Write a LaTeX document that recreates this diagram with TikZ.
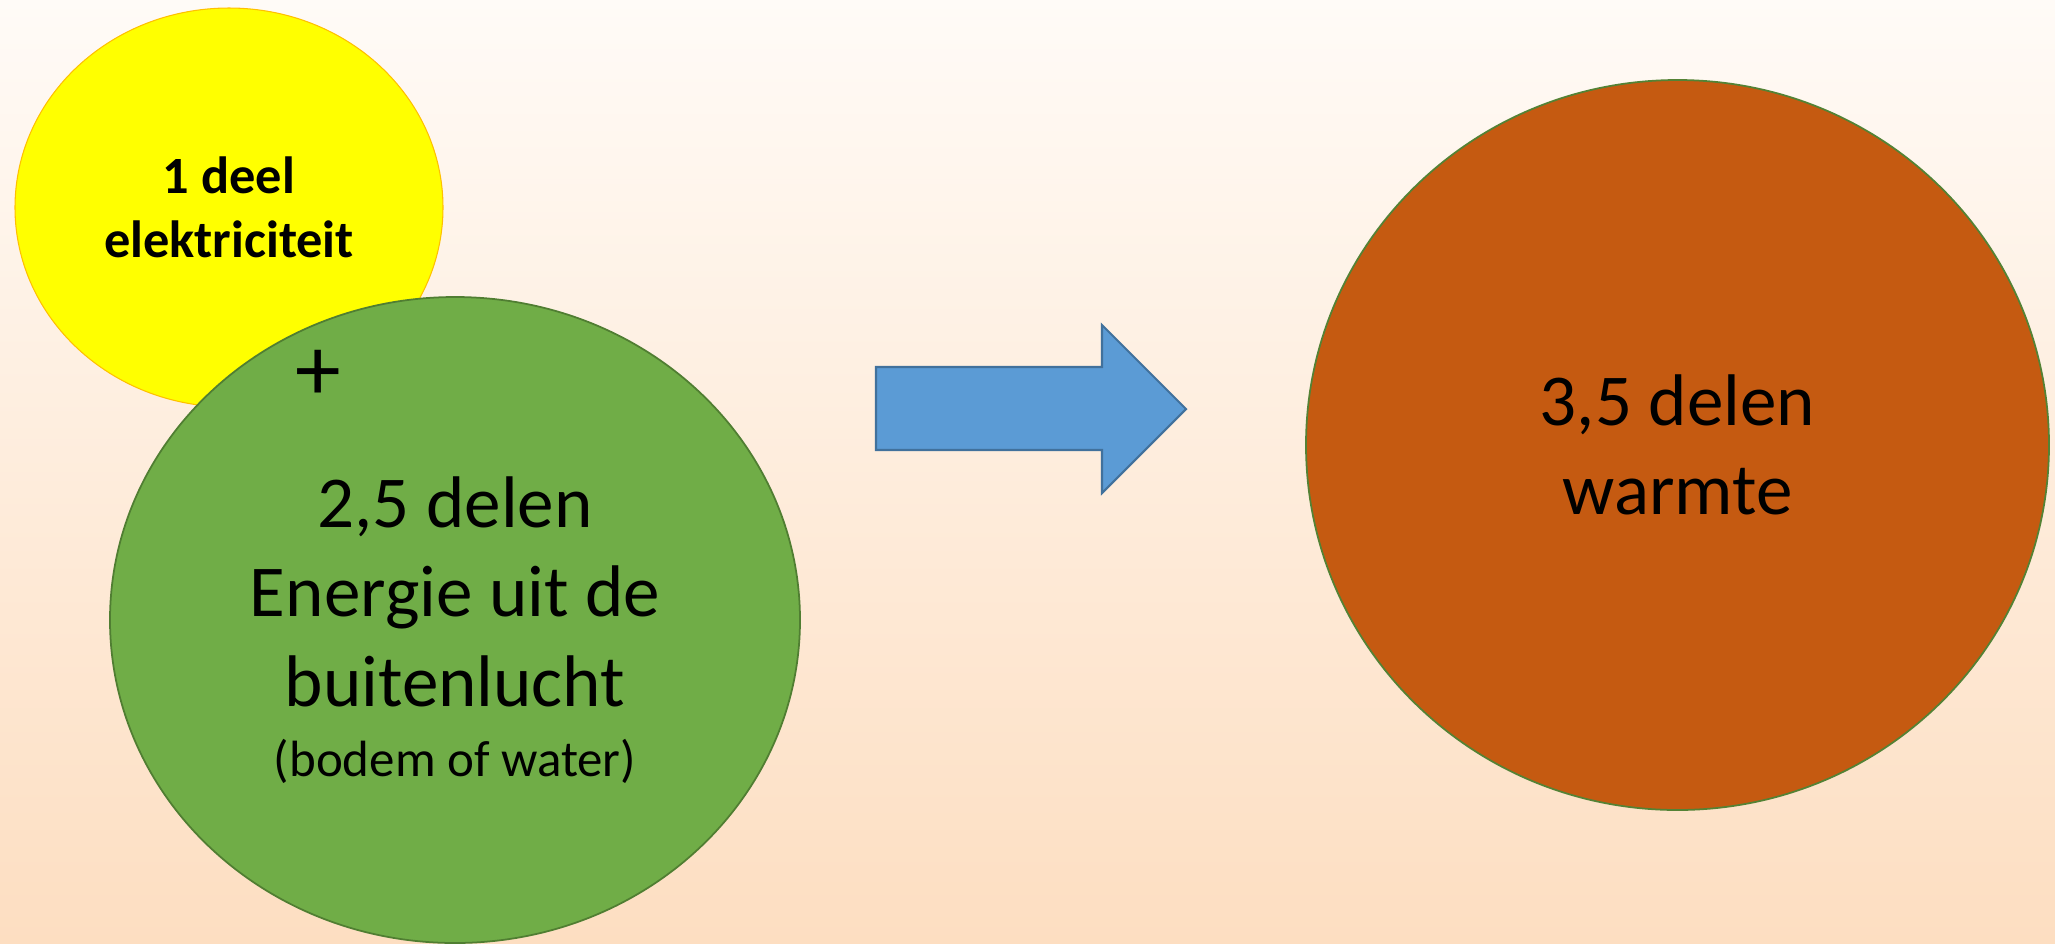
\documentclass[tikz,border=0pt]{standalone}
\usepackage{fontspec}
\setmainfont{Carlito}
\usetikzlibrary{shapes.geometric}

\definecolor{bgtop}{RGB}{255,251,247}
\definecolor{bgbottom}{RGB}{253,222,193}
\definecolor{geel}{RGB}{255,255,0}
\definecolor{geelrand}{RGB}{255,192,0}
\definecolor{groen}{RGB}{112,173,71}
\definecolor{groenrand}{RGB}{80,126,50}
\definecolor{oranje}{RGB}{197,90,17}
\definecolor{oranjerand}{RGB}{84,130,53}
\definecolor{blauw}{RGB}{91,155,213}
\definecolor{blauwrand}{RGB}{65,113,156}

\begin{document}
\begin{tikzpicture}[
    deel/.style={ellipse, inner sep=0pt, align=center, line width=0.5pt},
    groot/.style={font=\fontsize{20.8}{25.5}\selectfont}
]
        % \draw[help lines] (0,0) grid (20.55,-9.43);
        \shade[top color=bgtop, bottom color=bgbottom] (0,0) rectangle (20.55,-9.43);
        \useasboundingbox (0,0) rectangle (20.55,-9.43);

        \node[deel, fill=geel, draw=geelrand, line width=0.3pt, minimum width=4.28cm, minimum height=3.99cm,
              font=\bfseries\fontsize{14.9}{18.2}\selectfont] at (2.29,-2.075) (elek) {1 deel\\elektriciteit};
        \node[deel, groot, fill=groen, draw=groenrand, minimum width=6.90cm, minimum height=6.46cm] at (4.55,-6.20) (buiten)
              {\rule{0pt}{20pt}2,5 delen\\Energie uit de\\buitenlucht\\[-5.6pt]{\fontsize{14.5}{17}\selectfont (bodem of water)}};
        \node[font=\fontsize{26}{30}\selectfont] at (3.18,-3.75) (plus) {+};
        \node[deel, groot, fill=oranje, draw=oranjerand, minimum width=7.43cm, minimum height=7.30cm] at (16.775,-4.45) (warm)
              {3,5 delen\\warmte};

        \filldraw[fill=blauw, draw=blauwrand, line width=0.6pt]
        (8.76,-3.67) -- (11.02,-3.67) -- (11.02,-3.25) -- (11.86,-4.09)
        -- (11.02,-4.93) -- (11.02,-4.50) -- (8.76,-4.50) -- cycle;
\end{tikzpicture}
\end{document}
